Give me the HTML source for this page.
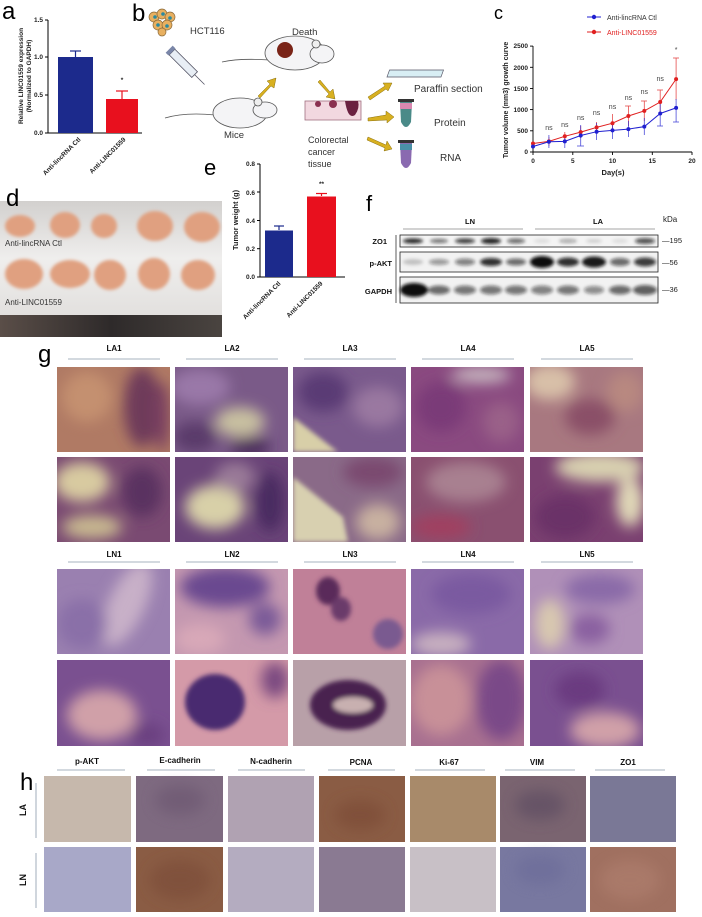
<!DOCTYPE html>
<html><head><meta charset="utf-8">
<style>
html,body{margin:0;padding:0;background:#fff;}
svg{display:block;font-family:"Liberation Sans",Arial,sans-serif;}
.b{font-weight:bold;}
</style></head><body>
<svg width="702" height="917" viewBox="0 0 702 917" xmlns="http://www.w3.org/2000/svg">
<defs>
<filter id="bl" x="-50%" y="-50%" width="200%" height="200%"><feGaussianBlur stdDeviation="7"/></filter>
<filter id="bs" x="-50%" y="-50%" width="200%" height="200%"><feGaussianBlur stdDeviation="2.5"/></filter>
<filter id="bb" x="-50%" y="-50%" width="200%" height="200%"><feGaussianBlur stdDeviation="1.6"/></filter>
<linearGradient id="ruler" x1="0" x2="1"><stop offset="0" stop-color="#5a4e48"/><stop offset="0.5" stop-color="#2e2a2a"/><stop offset="1" stop-color="#4a4440"/></linearGradient>
<linearGradient id="photo" x1="0" y1="0" x2="0" y2="1"><stop offset="0" stop-color="#d2d0ce"/><stop offset="0.5" stop-color="#efeeed"/><stop offset="1" stop-color="#e2e0de"/></linearGradient>
</defs>

<!-- Panel a -->
<text x="2" y="19" font-size="24">a</text>
<g font-size="6.5" class="b" fill="#222">
<line x1="48" y1="20" x2="48" y2="133" stroke="#000" stroke-width="1"/>
<line x1="48" y1="133" x2="142" y2="133" stroke="#000" stroke-width="1"/>
<line x1="45" y1="20" x2="48" y2="20" stroke="#000"/><line x1="45" y1="57" x2="48" y2="57" stroke="#000"/><line x1="45" y1="95" x2="48" y2="95" stroke="#000"/><line x1="45" y1="133" x2="48" y2="133" stroke="#000"/>
<text x="43" y="22" text-anchor="end">1.5</text><text x="43" y="59" text-anchor="end">1.0</text><text x="43" y="97" text-anchor="end">0.5</text><text x="43" y="135" text-anchor="end">0.0</text>
<rect x="58" y="57" width="35" height="76" fill="#1c2a8c"/>
<line x1="75.5" y1="57" x2="75.5" y2="51" stroke="#1c2a8c" stroke-width="1.2"/><line x1="70" y1="51" x2="81" y2="51" stroke="#1c2a8c" stroke-width="1.2"/>
<rect x="106" y="99" width="32" height="34" fill="#e8101e"/>
<line x1="122" y1="99" x2="122" y2="91" stroke="#e8101e" stroke-width="1.2"/><line x1="116" y1="91" x2="128" y2="91" stroke="#e8101e" stroke-width="1.2"/>
<text x="122" y="82" text-anchor="middle">*</text>
<text transform="translate(81,140) rotate(-45)" text-anchor="end">Anti-lincRNA Ctl</text>
<text transform="translate(126,140) rotate(-45)" text-anchor="end">Anti-LINC01559</text>
<text transform="translate(23,76) rotate(-90)" text-anchor="middle">Relative LINC01559 expression</text>
<text transform="translate(31,76) rotate(-90)" text-anchor="middle">(Normalized to GAPDH)</text>
</g>

<!-- Panel b -->
<text x="132" y="21" font-size="24">b</text>
<g>
<circle cx="154" cy="17" r="5" fill="#e8b060" stroke="#8a6a3a" stroke-width="0.7"/><circle cx="162" cy="14" r="5" fill="#e8b060" stroke="#8a6a3a" stroke-width="0.7"/><circle cx="170" cy="17" r="5" fill="#e8b060" stroke="#8a6a3a" stroke-width="0.7"/>
<circle cx="158" cy="25" r="5" fill="#e8b060" stroke="#8a6a3a" stroke-width="0.7"/><circle cx="167" cy="25" r="5" fill="#e8b060" stroke="#8a6a3a" stroke-width="0.7"/><circle cx="162" cy="32" r="4" fill="#e8b060" stroke="#8a6a3a" stroke-width="0.7"/>
<circle cx="155" cy="17" r="1.8" fill="#2a8aa0"/><circle cx="163" cy="14" r="1.8" fill="#2a8aa0"/><circle cx="170" cy="18" r="1.8" fill="#2a8aa0"/><circle cx="158" cy="25" r="1.8" fill="#2a8aa0"/><circle cx="167" cy="26" r="1.8" fill="#2a8aa0"/>
</g>
<text x="190" y="34" font-size="9.5" fill="#333">HCT116</text>
<g transform="translate(172,52) rotate(45)">
<rect x="0" y="-4" width="32" height="8" fill="#e8eef5" stroke="#556" stroke-width="0.8"/>
<rect x="-4" y="-5" width="4" height="10" fill="#7a86a8"/>
<line x1="32" y1="0" x2="46" y2="0" stroke="#556" stroke-width="0.8"/>
</g>
<g stroke="#555" stroke-width="0.8">
<path d="M165,118 Q185,112 215,115" fill="none"/>
<ellipse cx="240" cy="113" rx="27" ry="15" fill="#f4f4f6"/>
<ellipse cx="265" cy="110" rx="12" ry="8" fill="#f4f4f6"/>
<circle cx="258" cy="102" r="4" fill="#eee"/>
</g>
<text x="224" y="138" font-size="9.5" fill="#333">Mice</text>
<g stroke="#555" stroke-width="0.8">
<path d="M222,62 Q240,58 270,60" fill="none"/>
<ellipse cx="295" cy="53" rx="30" ry="17" fill="#f4f4f6"/>
<ellipse cx="322" cy="54" rx="12" ry="9" fill="#f4f4f6"/>
<circle cx="316" cy="44" r="4" fill="#eee"/>
<circle cx="285" cy="50" r="8" fill="#7a2418" stroke="none"/>
</g>
<text x="292" y="35" font-size="9.5" fill="#333">Death</text>
<g fill="#d8b020" stroke="#8a7010" stroke-width="0.5">
<path d="M258,96 L270,84 L267,81 L276,78 L274,88 L271,86 L260,98 Z"/>
<path d="M320,80 L330,92 L333,89 L335,99 L326,97 L329,94 L318,82 Z"/>
<path d="M368,97 L385,86 L383,83 L392,83 L388,91 L386,89 L370,100 Z"/>
<path d="M368,118 L386,115 L386,111 L394,117 L387,123 L387,120 L368,121 Z"/>
<path d="M368,137 L386,145 L387,141 L392,149 L384,151 L385,148 L367,140 Z"/>
</g>
<rect x="305" y="101" width="56" height="19" fill="#f2d8e0" stroke="#a07080" stroke-width="0.8"/>
<circle cx="318" cy="104" r="3" fill="#8a3050"/><circle cx="333" cy="104" r="4" fill="#8a3050"/><path d="M345,101 Q348,120 355,115 Q360,108 358,101 Z" fill="#6a2040"/>
<text x="308" y="143" font-size="9" fill="#333">Colorectal</text>
<text x="308" y="155" font-size="9" fill="#333">cancer</text>
<text x="308" y="167" font-size="9" fill="#333">tissue</text>
<rect x="389" y="70" width="54" height="7" fill="#d8eef4" stroke="#556" stroke-width="0.7" transform="skewX(-20) translate(26,0)"/>
<text x="414" y="92" font-size="10" fill="#333">Paraffin section</text>
<rect x="398" y="99" width="16" height="3" fill="#333"/>
<path d="M400,102 L412,102 L411,122 Q406,132 401,122 Z" fill="#4a8a88"/><rect x="400" y="103" width="12" height="6" fill="#d888b0"/>
<text x="434" y="126" font-size="10" fill="#333">Protein</text>
<rect x="398" y="140" width="16" height="3" fill="#333"/>
<path d="M400,143 L412,143 L411,163 Q406,173 401,163 Z" fill="#8a6ab0"/><rect x="400" y="144" width="12" height="6" fill="#4a90a8"/>
<text x="440" y="161" font-size="10" fill="#333">RNA</text>

<!-- Panel c -->
<text x="494" y="19" font-size="18">c</text>
<line x1="587" y1="17" x2="601" y2="17" stroke="#2020d0"/><circle cx="594" cy="17" r="2.2" fill="#2020d0"/>
<text x="607" y="20" font-size="7" fill="#333">Anti-lincRNA Ctl</text>
<line x1="587" y1="32" x2="601" y2="32" stroke="#e02020"/><circle cx="594" cy="32" r="2.2" fill="#e02020"/>
<text x="607" y="35" font-size="7" fill="#e02020">Anti-LINC01559</text>
<g font-size="6.5" class="b" fill="#222" stroke-width="0.9">
<line x1="533" y1="46" x2="533" y2="152" stroke="#000"/>
<line x1="533" y1="152" x2="692" y2="152" stroke="#000"/>
<g stroke="#000">
<line x1="530" y1="152" x2="533" y2="152"/><line x1="530" y1="130.8" x2="533" y2="130.8"/><line x1="530" y1="109.6" x2="533" y2="109.6"/><line x1="530" y1="88.5" x2="533" y2="88.5"/><line x1="530" y1="67.3" x2="533" y2="67.3"/><line x1="530" y1="46.1" x2="533" y2="46.1"/>
<line x1="533" y1="152" x2="533" y2="155"/><line x1="572.8" y1="152" x2="572.8" y2="155"/><line x1="612.5" y1="152" x2="612.5" y2="155"/><line x1="652.3" y1="152" x2="652.3" y2="155"/><line x1="692" y1="152" x2="692" y2="155"/>
</g>
<text x="528" y="154" text-anchor="end">0</text><text x="528" y="133" text-anchor="end">500</text><text x="528" y="112" text-anchor="end">1000</text><text x="528" y="91" text-anchor="end">1500</text><text x="528" y="70" text-anchor="end">2000</text><text x="528" y="48" text-anchor="end">2500</text>
<text x="533" y="163" text-anchor="middle">0</text><text x="572.8" y="163" text-anchor="middle">5</text><text x="612.5" y="163" text-anchor="middle">10</text><text x="652.3" y="163" text-anchor="middle">15</text><text x="692" y="163" text-anchor="middle">20</text>
<text x="613" y="175" text-anchor="middle" font-size="7.5">Day(s)</text>
<text transform="translate(508,100) rotate(-90)" text-anchor="middle" font-size="7">Tumor volume (mm3) growth curve</text>
</g>
<g stroke="#e02020" stroke-width="0.8" opacity="0.8">
<line x1="548.9" y1="137" x2="548.9" y2="146"/><line x1="564.8" y1="132" x2="564.8" y2="140"/><line x1="580.7" y1="126" x2="580.7" y2="138"/><line x1="596.6" y1="122" x2="596.6" y2="132"/><line x1="612.5" y1="114" x2="612.5" y2="132"/><line x1="628.4" y1="106" x2="628.4" y2="126"/><line x1="644.3" y1="101" x2="644.3" y2="121"/><line x1="660.2" y1="90" x2="660.2" y2="114"/><line x1="676.1" y1="58" x2="676.1" y2="100"/>
<line x1="673" y1="58" x2="679" y2="58"/><line x1="657" y1="90" x2="663" y2="90"/><line x1="641" y1="101" x2="647" y2="101"/><line x1="625" y1="106" x2="631" y2="106"/>
</g>
<g stroke="#2020d0" stroke-width="0.8" opacity="0.8">
<line x1="548.9" y1="135" x2="548.9" y2="148"/><line x1="564.8" y1="135" x2="564.8" y2="148"/><line x1="580.7" y1="125" x2="580.7" y2="146"/><line x1="596.6" y1="123" x2="596.6" y2="140"/><line x1="612.5" y1="122" x2="612.5" y2="139"/><line x1="628.4" y1="121" x2="628.4" y2="137"/><line x1="644.3" y1="118" x2="644.3" y2="135"/><line x1="660.2" y1="101" x2="660.2" y2="126"/><line x1="676.1" y1="99" x2="676.1" y2="122"/>
<line x1="673" y1="122" x2="679" y2="122"/><line x1="657" y1="126" x2="663" y2="126"/><line x1="577" y1="146" x2="584" y2="146"/>
</g>
<polyline points="533,143.5 548.9,141.4 564.8,136.3 580.7,132.1 596.6,127.4 612.5,123.2 628.4,116 644.3,110.9 660.2,102 676.1,79.1" fill="none" stroke="#e02020" stroke-width="1"/>
<polyline points="533,146.5 548.9,141.8 564.8,141.4 580.7,135.5 596.6,131.7 612.5,130.4 628.4,129.1 644.3,126.6 660.2,113.5 676.1,107.9" fill="none" stroke="#2020d0" stroke-width="1"/>
<g fill="#e02020"><circle cx="533" cy="143.5" r="2"/><circle cx="548.9" cy="141.4" r="2"/><circle cx="564.8" cy="136.3" r="2"/><circle cx="580.7" cy="132.1" r="2"/><circle cx="596.6" cy="127.4" r="2"/><circle cx="612.5" cy="123.2" r="2"/><circle cx="628.4" cy="116" r="2"/><circle cx="644.3" cy="110.9" r="2"/><circle cx="660.2" cy="102" r="2"/><circle cx="676.1" cy="79.1" r="2"/></g>
<g fill="#2020d0"><circle cx="533" cy="146.5" r="2"/><circle cx="548.9" cy="141.8" r="2"/><circle cx="564.8" cy="141.4" r="2"/><circle cx="580.7" cy="135.5" r="2"/><circle cx="596.6" cy="131.7" r="2"/><circle cx="612.5" cy="130.4" r="2"/><circle cx="628.4" cy="129.1" r="2"/><circle cx="644.3" cy="126.6" r="2"/><circle cx="660.2" cy="113.5" r="2"/><circle cx="676.1" cy="107.9" r="2"/></g>
<g font-size="7" fill="#444" text-anchor="middle">
<text x="548.9" y="130">ns</text><text x="564.8" y="127">ns</text><text x="580.7" y="120">ns</text><text x="596.6" y="115">ns</text><text x="612.5" y="109">ns</text><text x="628.4" y="100">ns</text><text x="644.3" y="94">ns</text><text x="660.2" y="81">ns</text><text x="676.1" y="52">*</text>
</g>

<!-- Panel d -->
<rect x="0" y="201" width="222" height="115" fill="url(#photo)"/>
<rect x="0" y="315" width="222" height="22" fill="url(#ruler)"/>
<text x="6" y="206" font-size="24">d</text>
<g fill="#e0a080" filter="url(#bb)">
<ellipse cx="20" cy="226" rx="15" ry="11"/><ellipse cx="65" cy="225" rx="15" ry="13"/><ellipse cx="104" cy="226" rx="13" ry="12"/><ellipse cx="155" cy="226" rx="18" ry="15"/><ellipse cx="202" cy="227" rx="18" ry="15"/>
<ellipse cx="24" cy="274" rx="19" ry="15"/><ellipse cx="70" cy="274" rx="20" ry="14"/><ellipse cx="110" cy="275" rx="16" ry="15"/><ellipse cx="154" cy="274" rx="16" ry="16"/><ellipse cx="198" cy="275" rx="17" ry="15"/>
</g>
<text x="5" y="246" font-size="8" fill="#333">Anti-lincRNA Ctl</text>
<text x="5" y="305" font-size="8" fill="#333">Anti-LINC01559</text>

<!-- Panel e -->
<text x="204" y="175" font-size="22">e</text>
<g font-size="6.5" class="b" fill="#222">
<line x1="260" y1="164" x2="260" y2="277" stroke="#000"/>
<line x1="260" y1="277" x2="345" y2="277" stroke="#000"/>
<g stroke="#000"><line x1="257" y1="164" x2="260" y2="164"/><line x1="257" y1="192" x2="260" y2="192"/><line x1="257" y1="220.5" x2="260" y2="220.5"/><line x1="257" y1="248.7" x2="260" y2="248.7"/><line x1="257" y1="277" x2="260" y2="277"/></g>
<text x="255" y="166" text-anchor="end">0.8</text><text x="255" y="195" text-anchor="end">0.6</text><text x="255" y="223" text-anchor="end">0.4</text><text x="255" y="251" text-anchor="end">0.2</text><text x="255" y="279" text-anchor="end">0.0</text>
<rect x="265" y="230.5" width="28" height="46.5" fill="#1c2a8c"/>
<line x1="279" y1="230" x2="279" y2="226" stroke="#1c2a8c" stroke-width="1.2"/><line x1="274" y1="226" x2="284" y2="226" stroke="#1c2a8c" stroke-width="1.2"/>
<rect x="307" y="196.5" width="29" height="80.5" fill="#e8101e"/>
<line x1="321.5" y1="196" x2="321.5" y2="193.5" stroke="#e8101e" stroke-width="1.2"/><line x1="316" y1="193.5" x2="327" y2="193.5" stroke="#e8101e" stroke-width="1.2"/>
<text x="321.5" y="186" text-anchor="middle">**</text>
<text transform="translate(281,284) rotate(-45)" text-anchor="end">Anti-lincRNA Ctl</text>
<text transform="translate(323,284) rotate(-45)" text-anchor="end">Anti-LINC01559</text>
<text transform="translate(238,220) rotate(-90)" text-anchor="middle" font-size="7.5">Tumor weight (g)</text>
</g>

<!-- Panel f -->
<text x="366" y="211" font-size="22">f</text>
<g font-size="7.5" class="b" fill="#111">
<text x="470" y="224" text-anchor="middle">LN</text><text x="598" y="224" text-anchor="middle">LA</text>
<text x="387" y="244" text-anchor="end">ZO1</text><text x="392" y="266" text-anchor="end">p-AKT</text><text x="392" y="294" text-anchor="end">GAPDH</text>
</g>
<line x1="403" y1="229" x2="523" y2="229" stroke="#888" stroke-width="0.8"/><line x1="535" y1="229" x2="655" y2="229" stroke="#888" stroke-width="0.8"/>
<line x1="396" y1="235" x2="396" y2="303" stroke="#333" stroke-width="0.8"/>
<text x="663" y="222" font-size="8" fill="#222">kDa</text>
<text x="662" y="243" font-size="7.5" fill="#222">—195</text><text x="662" y="265" font-size="7.5" fill="#222">—56</text><text x="662" y="292" font-size="7.5" fill="#222">—36</text>
<rect x="400" y="235" width="258" height="12" fill="#f4f4f4" stroke="#222" stroke-width="0.8"/>
<rect x="400" y="252" width="258" height="20" fill="#f2f2f2" stroke="#222" stroke-width="0.8"/>
<rect x="400" y="277" width="258" height="26" fill="#f2f2f2" stroke="#222" stroke-width="0.8"/>
<g filter="url(#bb)" fill="#111">
<ellipse cx="413" cy="241" rx="10" ry="2.5" opacity="0.9"/><ellipse cx="439" cy="241" rx="9" ry="2" opacity="0.6"/><ellipse cx="465" cy="241" rx="10" ry="2.5" opacity="0.8"/><ellipse cx="491" cy="241" rx="10" ry="3" opacity="0.9"/><ellipse cx="516" cy="241" rx="9" ry="2.5" opacity="0.6"/>
<ellipse cx="542" cy="241" rx="8" ry="2" opacity="0.1"/><ellipse cx="568" cy="241" rx="9" ry="2" opacity="0.35"/><ellipse cx="594" cy="241" rx="8" ry="2" opacity="0.15"/><ellipse cx="620" cy="241" rx="8" ry="2" opacity="0.1"/><ellipse cx="645" cy="241" rx="10" ry="3" opacity="0.7"/>
<ellipse cx="413" cy="262" rx="10" ry="3" opacity="0.2"/><ellipse cx="439" cy="262" rx="10" ry="3" opacity="0.4"/><ellipse cx="465" cy="262" rx="10" ry="3.5" opacity="0.5"/><ellipse cx="491" cy="262" rx="11" ry="4" opacity="0.85"/><ellipse cx="516" cy="262" rx="10" ry="3.5" opacity="0.6"/>
<ellipse cx="542" cy="262" rx="12" ry="6" opacity="1"/><ellipse cx="568" cy="262" rx="11" ry="4.5" opacity="0.85"/><ellipse cx="594" cy="262" rx="12" ry="5.5" opacity="0.95"/><ellipse cx="620" cy="262" rx="10" ry="4" opacity="0.6"/><ellipse cx="645" cy="262" rx="11" ry="4.5" opacity="0.8"/>
<ellipse cx="414" cy="290" rx="14" ry="7" opacity="1"/><ellipse cx="439" cy="290" rx="11" ry="4.5" opacity="0.6"/><ellipse cx="465" cy="290" rx="11" ry="4.5" opacity="0.55"/><ellipse cx="491" cy="290" rx="11" ry="4.5" opacity="0.55"/><ellipse cx="516" cy="290" rx="11" ry="4.5" opacity="0.55"/>
<ellipse cx="542" cy="290" rx="11" ry="4.5" opacity="0.5"/><ellipse cx="568" cy="290" rx="11" ry="4.5" opacity="0.55"/><ellipse cx="594" cy="290" rx="10" ry="4" opacity="0.45"/><ellipse cx="620" cy="290" rx="11" ry="4.5" opacity="0.6"/><ellipse cx="645" cy="290" rx="12" ry="5" opacity="0.65"/>
</g>

<!-- Panel g -->
<text x="38" y="362" font-size="24">g</text>
<g font-size="8" class="b" fill="#111" text-anchor="middle">
<text x="114" y="351">LA1</text><text x="232" y="351">LA2</text><text x="350" y="351">LA3</text><text x="468" y="351">LA4</text><text x="587" y="351">LA5</text>
<text x="114" y="557">LN1</text><text x="232" y="557">LN2</text><text x="350" y="557">LN3</text><text x="468" y="557">LN4</text><text x="587" y="557">LN5</text>
</g>
<g stroke="#8a9aaa" stroke-width="0.8">
<line x1="68" y1="359" x2="160" y2="359"/><line x1="186" y1="359" x2="278" y2="359"/><line x1="304" y1="359" x2="396" y2="359"/><line x1="422" y1="359" x2="514" y2="359"/><line x1="541" y1="359" x2="633" y2="359"/>
<line x1="68" y1="562" x2="160" y2="562"/><line x1="186" y1="562" x2="278" y2="562"/><line x1="304" y1="562" x2="396" y2="562"/><line x1="422" y1="562" x2="514" y2="562"/><line x1="541" y1="562" x2="633" y2="562"/>
</g>

<svg x="57" y="367" width="113" height="85" viewBox="0 0 113 85"><rect width="113" height="85" fill="#b07a64"/><g filter="url(#bl)"><ellipse cx="85" cy="40" rx="18" ry="40" fill="#6e3a5a"/><ellipse cx="30" cy="30" rx="25" ry="25" fill="#c49070"/><ellipse cx="105" cy="50" rx="8" ry="35" fill="#7a4060"/></g></svg>
<svg x="175" y="367" width="113" height="85" viewBox="0 0 113 85"><rect width="113" height="85" fill="#7a5a88"/><g filter="url(#bl)"><ellipse cx="25" cy="20" rx="30" ry="18" fill="#9a78a8"/><ellipse cx="65" cy="55" rx="25" ry="15" fill="#c8c0a0"/><ellipse cx="75" cy="80" rx="20" ry="10" fill="#4a2a5a"/><ellipse cx="20" cy="70" rx="22" ry="15" fill="#5a3a6a"/></g></svg>
<svg x="293" y="367" width="113" height="85" viewBox="0 0 113 85"><rect width="113" height="85" fill="#7a5a8c"/><path d="M0,50 L45,85 L0,85 Z" fill="#d8cfa8" filter="url(#bs)"/><g filter="url(#bl)"><ellipse cx="85" cy="40" rx="25" ry="20" fill="#9a78a0"/><ellipse cx="30" cy="25" rx="25" ry="20" fill="#5a3a74"/></g></svg>
<svg x="411" y="367" width="113" height="85" viewBox="0 0 113 85"><rect width="113" height="85" fill="#8a4a80"/><g filter="url(#bl)"><ellipse cx="70" cy="8" rx="30" ry="8" fill="#c8b8c0"/><ellipse cx="30" cy="40" rx="25" ry="25" fill="#7a3a78"/><ellipse cx="90" cy="55" rx="18" ry="20" fill="#9a6088"/></g></svg>
<svg x="530" y="367" width="113" height="85" viewBox="0 0 113 85"><rect width="113" height="85" fill="#a87880"/><g filter="url(#bl)"><ellipse cx="20" cy="15" rx="25" ry="18" fill="#d8c0a8"/><ellipse cx="60" cy="50" rx="25" ry="18" fill="#8a5068"/><ellipse cx="95" cy="25" rx="18" ry="20" fill="#b88880"/></g></svg>
<svg x="57" y="457" width="113" height="85" viewBox="0 0 113 85"><rect width="113" height="85" fill="#7a4a72"/><g filter="url(#bl)"><ellipse cx="25" cy="25" rx="28" ry="20" fill="#d8caa0"/><ellipse cx="35" cy="70" rx="30" ry="12" fill="#c8b890"/><ellipse cx="85" cy="35" rx="20" ry="25" fill="#5a3060"/></g></svg>
<svg x="175" y="457" width="113" height="85" viewBox="0 0 113 85"><rect width="113" height="85" fill="#6a4478"/><g filter="url(#bl)"><ellipse cx="40" cy="50" rx="30" ry="22" fill="#d8d0a8"/><ellipse cx="60" cy="20" rx="20" ry="15" fill="#9a7a98"/><ellipse cx="95" cy="45" rx="14" ry="30" fill="#4a2a60"/></g></svg>
<svg x="293" y="457" width="113" height="85" viewBox="0 0 113 85"><rect width="113" height="85" fill="#8a6a88"/><path d="M0,20 L50,60 L55,85 L0,85 Z" fill="#d8d0b0" filter="url(#bs)"/><g filter="url(#bl)"><ellipse cx="80" cy="15" rx="30" ry="15" fill="#7a4a70"/><ellipse cx="85" cy="65" rx="22" ry="18" fill="#c8b0a0"/></g></svg>
<svg x="411" y="457" width="113" height="85" viewBox="0 0 113 85"><rect width="113" height="85" fill="#8a5070"/><g filter="url(#bl)"><ellipse cx="55" cy="25" rx="40" ry="20" fill="#a88090"/><ellipse cx="30" cy="70" rx="30" ry="12" fill="#a04060"/></g></svg>
<svg x="530" y="457" width="113" height="85" viewBox="0 0 113 85"><rect width="113" height="85" fill="#7a4070"/><g filter="url(#bl)"><ellipse cx="70" cy="10" rx="45" ry="15" fill="#d8d0b0"/><ellipse cx="100" cy="45" rx="14" ry="25" fill="#e0d8b8"/><ellipse cx="35" cy="60" rx="30" ry="22" fill="#6a3068"/></g></svg>
<svg x="57" y="569" width="113" height="85" viewBox="0 0 113 85"><rect width="113" height="85" fill="#9a80b0"/><g filter="url(#bl)"><ellipse cx="70" cy="35" rx="18" ry="45" fill="#c8b0c8" transform="rotate(25 70 35)"/><ellipse cx="25" cy="55" rx="25" ry="25" fill="#8a70a8"/></g></svg>
<svg x="175" y="569" width="113" height="85" viewBox="0 0 113 85"><rect width="113" height="85" fill="#c498b0"/><g filter="url(#bl)"><ellipse cx="50" cy="18" rx="45" ry="20" fill="#6a4a90"/><ellipse cx="90" cy="50" rx="16" ry="16" fill="#7a5a98"/><ellipse cx="25" cy="70" rx="25" ry="15" fill="#d8a8b8"/></g></svg>
<svg x="293" y="569" width="113" height="85" viewBox="0 0 113 85"><rect width="113" height="85" fill="#c08098"/><g filter="url(#bs)"><ellipse cx="35" cy="22" rx="12" ry="14" fill="#5a2a5a"/><ellipse cx="48" cy="40" rx="10" ry="12" fill="#6a3a6a"/><ellipse cx="95" cy="65" rx="15" ry="15" fill="#7a5a90"/></g></svg>
<svg x="411" y="569" width="113" height="85" viewBox="0 0 113 85"><rect width="113" height="85" fill="#8a6aa8"/><g filter="url(#bl)"><ellipse cx="60" cy="25" rx="40" ry="20" fill="#7a5aa0"/><ellipse cx="30" cy="75" rx="30" ry="12" fill="#c8b0c0"/></g></svg>
<svg x="530" y="569" width="113" height="85" viewBox="0 0 113 85"><rect width="113" height="85" fill="#b090b8"/><g filter="url(#bl)"><ellipse cx="70" cy="20" rx="35" ry="15" fill="#8a6aa8"/><ellipse cx="20" cy="55" rx="15" ry="25" fill="#d8c8b0"/><ellipse cx="60" cy="60" rx="20" ry="15" fill="#8a60a0"/></g></svg>
<svg x="57" y="660" width="113" height="86" viewBox="0 0 113 86"><rect width="113" height="86" fill="#7a5090"/><g filter="url(#bl)"><ellipse cx="45" cy="55" rx="35" ry="25" fill="#d0a0a8"/><ellipse cx="90" cy="75" rx="18" ry="12" fill="#6a4080"/></g></svg>
<svg x="175" y="660" width="113" height="86" viewBox="0 0 113 86"><rect width="113" height="86" fill="#d49aa8"/><ellipse cx="40" cy="42" rx="30" ry="28" fill="#4a2a70" filter="url(#bs)"/><ellipse cx="100" cy="20" rx="14" ry="18" fill="#7a4a80" filter="url(#bl)"/></svg>
<svg x="293" y="660" width="113" height="86" viewBox="0 0 113 86"><rect width="113" height="86" fill="#b8a0a8"/><g filter="url(#bs)"><ellipse cx="55" cy="45" rx="38" ry="25" fill="#4a2050"/><ellipse cx="60" cy="45" rx="20" ry="8" fill="#c8b0b0"/></g></svg>
<svg x="411" y="660" width="113" height="86" viewBox="0 0 113 86"><rect width="113" height="86" fill="#a87090"/><g filter="url(#bl)"><ellipse cx="30" cy="40" rx="30" ry="35" fill="#c89098"/><ellipse cx="90" cy="40" rx="25" ry="40" fill="#7a4a88"/></g></svg>
<svg x="530" y="660" width="113" height="86" viewBox="0 0 113 86"><rect width="113" height="86" fill="#7a5090"/><g filter="url(#bl)"><ellipse cx="75" cy="70" rx="35" ry="18" fill="#d0a0a8"/><ellipse cx="50" cy="30" rx="25" ry="18" fill="#6a3a80"/></g></svg>

<!-- Panel h -->
<text x="20" y="790" font-size="24">h</text>
<g font-size="8" class="b" fill="#111" text-anchor="middle">
<text x="87" y="764">p-AKT</text><text x="180" y="763">E-cadherin</text><text x="271" y="764">N-cadherin</text><text x="361" y="765">PCNA</text><text x="449" y="765">Ki-67</text><text x="537" y="765">VIM</text><text x="628" y="765">ZO1</text>
</g>
<g stroke="#8a9aaa" stroke-width="0.8">
<line x1="57" y1="770" x2="125" y2="770"/><line x1="147" y1="770" x2="215" y2="770"/><line x1="238" y1="770" x2="305" y2="770"/><line x1="328" y1="770" x2="395" y2="770"/><line x1="415" y1="770" x2="485" y2="770"/><line x1="505" y1="770" x2="575" y2="770"/><line x1="595" y1="770" x2="665" y2="770"/>
<line x1="36" y1="783" x2="36" y2="838"/><line x1="36" y1="853" x2="36" y2="908"/>
</g>
<text transform="translate(26,810) rotate(-90)" font-size="9" class="b" text-anchor="middle" fill="#111">LA</text>
<text transform="translate(26,880) rotate(-90)" font-size="9" class="b" text-anchor="middle" fill="#111">LN</text>
<g>
<rect x="44" y="776" width="87" height="66" fill="#c6b8ac"/>
<rect x="136" y="776" width="87" height="66" fill="#7e6a80"/>
<rect x="228" y="776" width="86" height="66" fill="#b0a2b2"/>
<rect x="319" y="776" width="86" height="66" fill="#8a5c44"/>
<rect x="410" y="776" width="86" height="66" fill="#a88a6a"/>
<rect x="500" y="776" width="86" height="66" fill="#7a6470"/>
<rect x="590" y="776" width="86" height="66" fill="#7a7896"/>
<rect x="44" y="847" width="87" height="65" fill="#a8a8c8"/>
<rect x="136" y="847" width="87" height="65" fill="#8a5c44"/>
<rect x="228" y="847" width="86" height="65" fill="#b4acc0"/>
<rect x="319" y="847" width="86" height="65" fill="#8a7a92"/>
<rect x="410" y="847" width="86" height="65" fill="#c8c0c6"/>
<rect x="500" y="847" width="86" height="65" fill="#7878a0"/>
<rect x="590" y="847" width="86" height="65" fill="#a07060"/>
</g>
<g filter="url(#bl)" opacity="0.6">
<ellipse cx="180" cy="800" rx="25" ry="15" fill="#6a5470"/><ellipse cx="360" cy="815" rx="25" ry="15" fill="#7a4a34"/><ellipse cx="540" cy="805" rx="25" ry="15" fill="#5a4a60"/>
<ellipse cx="180" cy="880" rx="30" ry="20" fill="#7a4c38"/><ellipse cx="630" cy="880" rx="30" ry="20" fill="#b08070"/><ellipse cx="540" cy="870" rx="25" ry="15" fill="#6a6a98"/>
</g>
</svg>
</body></html>
